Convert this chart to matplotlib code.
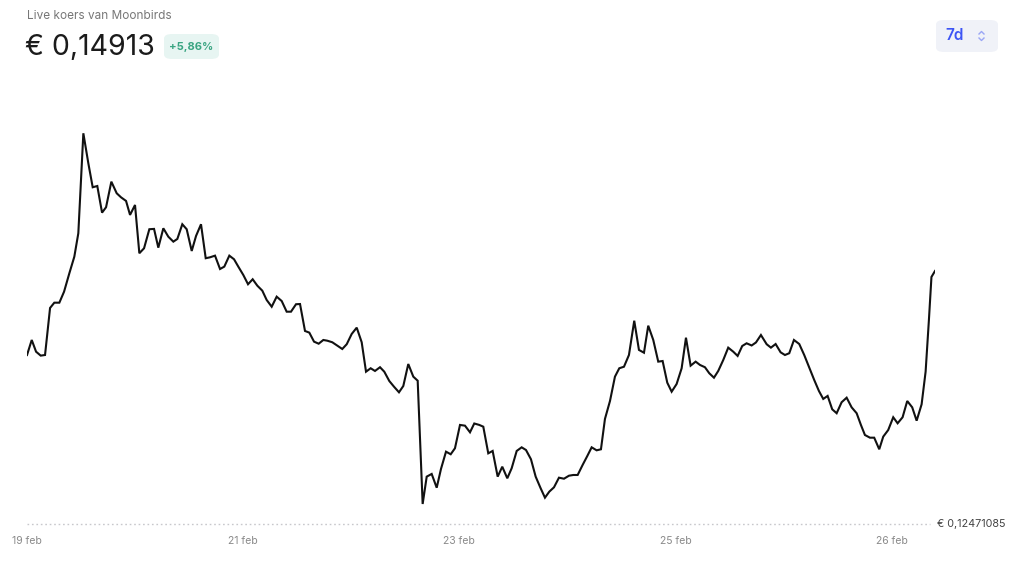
import matplotlib.pyplot as plt
from matplotlib.patches import FancyBboxPatch
from matplotlib.lines import Line2D

plt.rcParams['font.family'] = ['Inter', 'DejaVu Sans']

# uren sinds 19 feb 00:00 en koers in euro
uren = [0.0, 0.87, 1.67, 2.53, 3.33, 4.26, 5.05, 5.98, 6.85, 7.83, 8.75, 9.49, 10.42, 11.34, 12.15,
        13.0, 13.88, 14.62, 15.6, 16.59, 17.39, 18.32, 19.06, 19.98, 20.78, 21.65, 22.63, 23.5,
        24.29, 25.22, 26.14, 27.07, 27.81, 28.73, 29.54, 30.47, 31.27, 32.19, 33.06, 33.86, 34.78,
        35.71, 36.5, 37.43, 38.3, 39.09, 40.02, 40.89, 41.75, 42.61, 43.53, 44.34, 45.27, 46.19,
        47.12, 48.04, 48.84, 49.77, 50.51, 51.43, 52.23, 53.1, 53.96, 54.82, 55.56, 56.48, 57.41,
        58.33, 59.15, 60.07, 61.0, 61.92, 62.72, 63.58, 64.38, 65.31, 66.1, 67.03, 67.9, 68.82,
        69.62, 70.54, 71.47, 72.28, 73.2, 73.95, 74.87, 75.8, 76.59, 77.52, 78.39, 79.18, 80.11,
        81.03, 81.96, 82.75, 83.68, 84.42, 85.34, 86.15, 87.08, 87.93, 88.86, 89.67, 90.6, 91.52,
        92.32, 93.24, 94.11, 95.03, 95.83, 96.63, 97.5, 98.42, 99.35, 100.27, 101.07, 101.88,
        102.8, 103.66, 104.47, 105.39, 106.19, 106.93, 107.86, 108.78, 109.58, 110.45, 111.37,
        112.35, 113.22, 114.15, 114.94, 115.87, 116.79, 117.6, 118.46, 119.27, 120.19, 121.12,
        121.92, 122.78, 123.71, 124.51, 125.43, 126.23, 127.1, 127.89, 128.82, 129.74, 130.67,
        131.48, 132.33, 133.14, 134.07, 134.87, 135.79, 136.85, 137.64, 138.51, 139.43, 140.23,
        141.03, 141.9, 142.88, 143.8, 144.73, 145.65, 146.52, 147.32, 148.13, 148.98, 149.8,
        150.72, 151.65, 152.57, 153.5, 154.29, 155.03, 155.96, 156.75, 157.68, 158.42, 159.34,
        160.27, 161.08, 162.0, 162.86, 163.78, 164.6, 165.52, 166.26, 166.87, 167.34, 168.0]
koers = [0.14102, 0.14247, 0.14134, 0.14096, 0.14102, 0.14556, 0.14607, 0.14607, 0.14713, 0.14891,
         0.15051, 0.15277, 0.16242, 0.15953, 0.15721, 0.15733, 0.15476, 0.15528, 0.15775, 0.15663,
         0.15624, 0.15589, 0.15454, 0.15550, 0.15084, 0.15132, 0.15316, 0.15319, 0.15138, 0.15325,
         0.15244, 0.15196, 0.15222, 0.15364, 0.15316, 0.15106, 0.15251, 0.15364, 0.15036, 0.15045,
         0.15061, 0.14932, 0.14955, 0.15061, 0.15026, 0.14955, 0.14874, 0.14785, 0.14833, 0.14771,
         0.14723, 0.14633, 0.14568, 0.14665, 0.14623, 0.14520, 0.14520, 0.14592, 0.14594, 0.14334,
         0.14318, 0.14231, 0.14211, 0.14247, 0.14240, 0.14225, 0.14192, 0.14160, 0.14206, 0.14305,
         0.14366, 0.14225, 0.13941, 0.13974, 0.13948, 0.13984, 0.13941, 0.13851, 0.13796, 0.13742,
         0.13803, 0.14015, 0.13893, 0.13854, 0.12664, 0.12928, 0.12954, 0.12821, 0.13002, 0.13169,
         0.13144, 0.13202, 0.13427, 0.13420, 0.13356, 0.13441, 0.13427, 0.13410, 0.13153, 0.13176,
         0.12928, 0.13024, 0.12912, 0.13009, 0.13176, 0.13211, 0.13185, 0.13096, 0.12928, 0.12816,
         0.12725, 0.12783, 0.12825, 0.12918, 0.12908, 0.12937, 0.12944, 0.12944, 0.13041, 0.13127,
         0.13211, 0.13182, 0.13192, 0.13485, 0.13658, 0.13893, 0.13974, 0.13989, 0.14102, 0.14433,
         0.14151, 0.14124, 0.14385, 0.14247, 0.14038, 0.14044, 0.13835, 0.13748, 0.13822, 0.13974,
         0.14269, 0.13999, 0.14038, 0.14006, 0.13984, 0.13926, 0.13883, 0.13948, 0.14054, 0.14173,
         0.14134, 0.14093, 0.14189, 0.14215, 0.14194, 0.14223, 0.14295, 0.14206, 0.14173, 0.14208,
         0.14128, 0.14102, 0.14119, 0.14247, 0.14208, 0.14102, 0.13980, 0.13861, 0.13755, 0.13678,
         0.13707, 0.13578, 0.13540, 0.13646, 0.13690, 0.13597, 0.13540, 0.13427, 0.13330, 0.13304,
         0.13304, 0.13192, 0.13314, 0.13378, 0.13501, 0.13443, 0.13501, 0.13658, 0.13597, 0.13468,
         0.13626, 0.13941, 0.14440, 0.14855, 0.14913]

tick_uren = [0, 40, 80, 120, 160]
tick_labels = ['19 feb', '21 feb', '23 feb', '25 feb', '26 feb']
basis = 0.12471085
laatste = '€ 0,14913'
wijziging = '+5,86%'

fig = plt.figure(figsize=(10.24, 5.68), dpi=100)
ax = fig.add_axes([0.0264, 0.0775, 0.8867, 0.7465])
ax.plot(uren, koers, color='#111111', lw=1.5, solid_joinstyle='miter')
ax.axhline(basis, color='#c8c8cc', lw=1, ls=(0, (1.2, 2)), xmax=0.995, clip_on=False)
ax.set_xlim(0, 168)
ax.set_ylim(basis, 0.165635)
for s in ax.spines.values():
    s.set_visible(False)
ax.set_yticks([])
ax.set_xticks(tick_uren)
ax.set_xticklabels(tick_labels, fontsize=7.5, color='#8a8a8a')
ax.tick_params(axis='x', length=0, pad=9)

fig.text(0.9155, 1 - 524 / 568, '€ 0,' + '12471085', fontsize=7.8, color='#444444', va='center', ha='left')

# kop
fig.text(27 / 1024, 1 - 16 / 568, 'Live koers van Moonbirds', fontsize=8.5, color='#777777', va='center')
fig.text(25 / 1024, 1 - 47 / 568, laatste, fontsize=20.5, color='#1b1b1b', va='center')
badge = FancyBboxPatch((164 / 1024, 1 - 59 / 568), 55 / 1024, 25 / 568,
                       boxstyle='round,pad=0,rounding_size=0.008', transform=fig.transFigure,
                       fc='#e7f5f2', ec='none')
fig.patches.append(badge)
fig.text(191.5 / 1024, 1 - 46.5 / 568, wijziging, fontsize=8, color='#3aa582', va='center', ha='center',
         fontweight='bold')

knop = FancyBboxPatch((936 / 1024, 1 - 52 / 568), 62 / 1024, 32 / 568,
                      boxstyle='round,pad=0,rounding_size=0.008', transform=fig.transFigure,
                      fc='#f0f2f8', ec='none')
fig.patches.append(knop)
fig.text(955 / 1024, 1 - 36 / 568, '7d', fontsize=11, color='#3d55f5', va='center', ha='center',
         fontweight='semibold')
for top, dy in [(31.5, 2.5), (40.5, -2.5)]:
    fig.add_artist(Line2D([979 / 1024, 981.5 / 1024, 984 / 1024],
                          [1 - (top + dy) / 568, 1 - top / 568, 1 - (top + dy) / 568],
                          transform=fig.transFigure, color='#9aa6f5', lw=1))

fig.savefig('out.png', dpi=100, facecolor='white')
